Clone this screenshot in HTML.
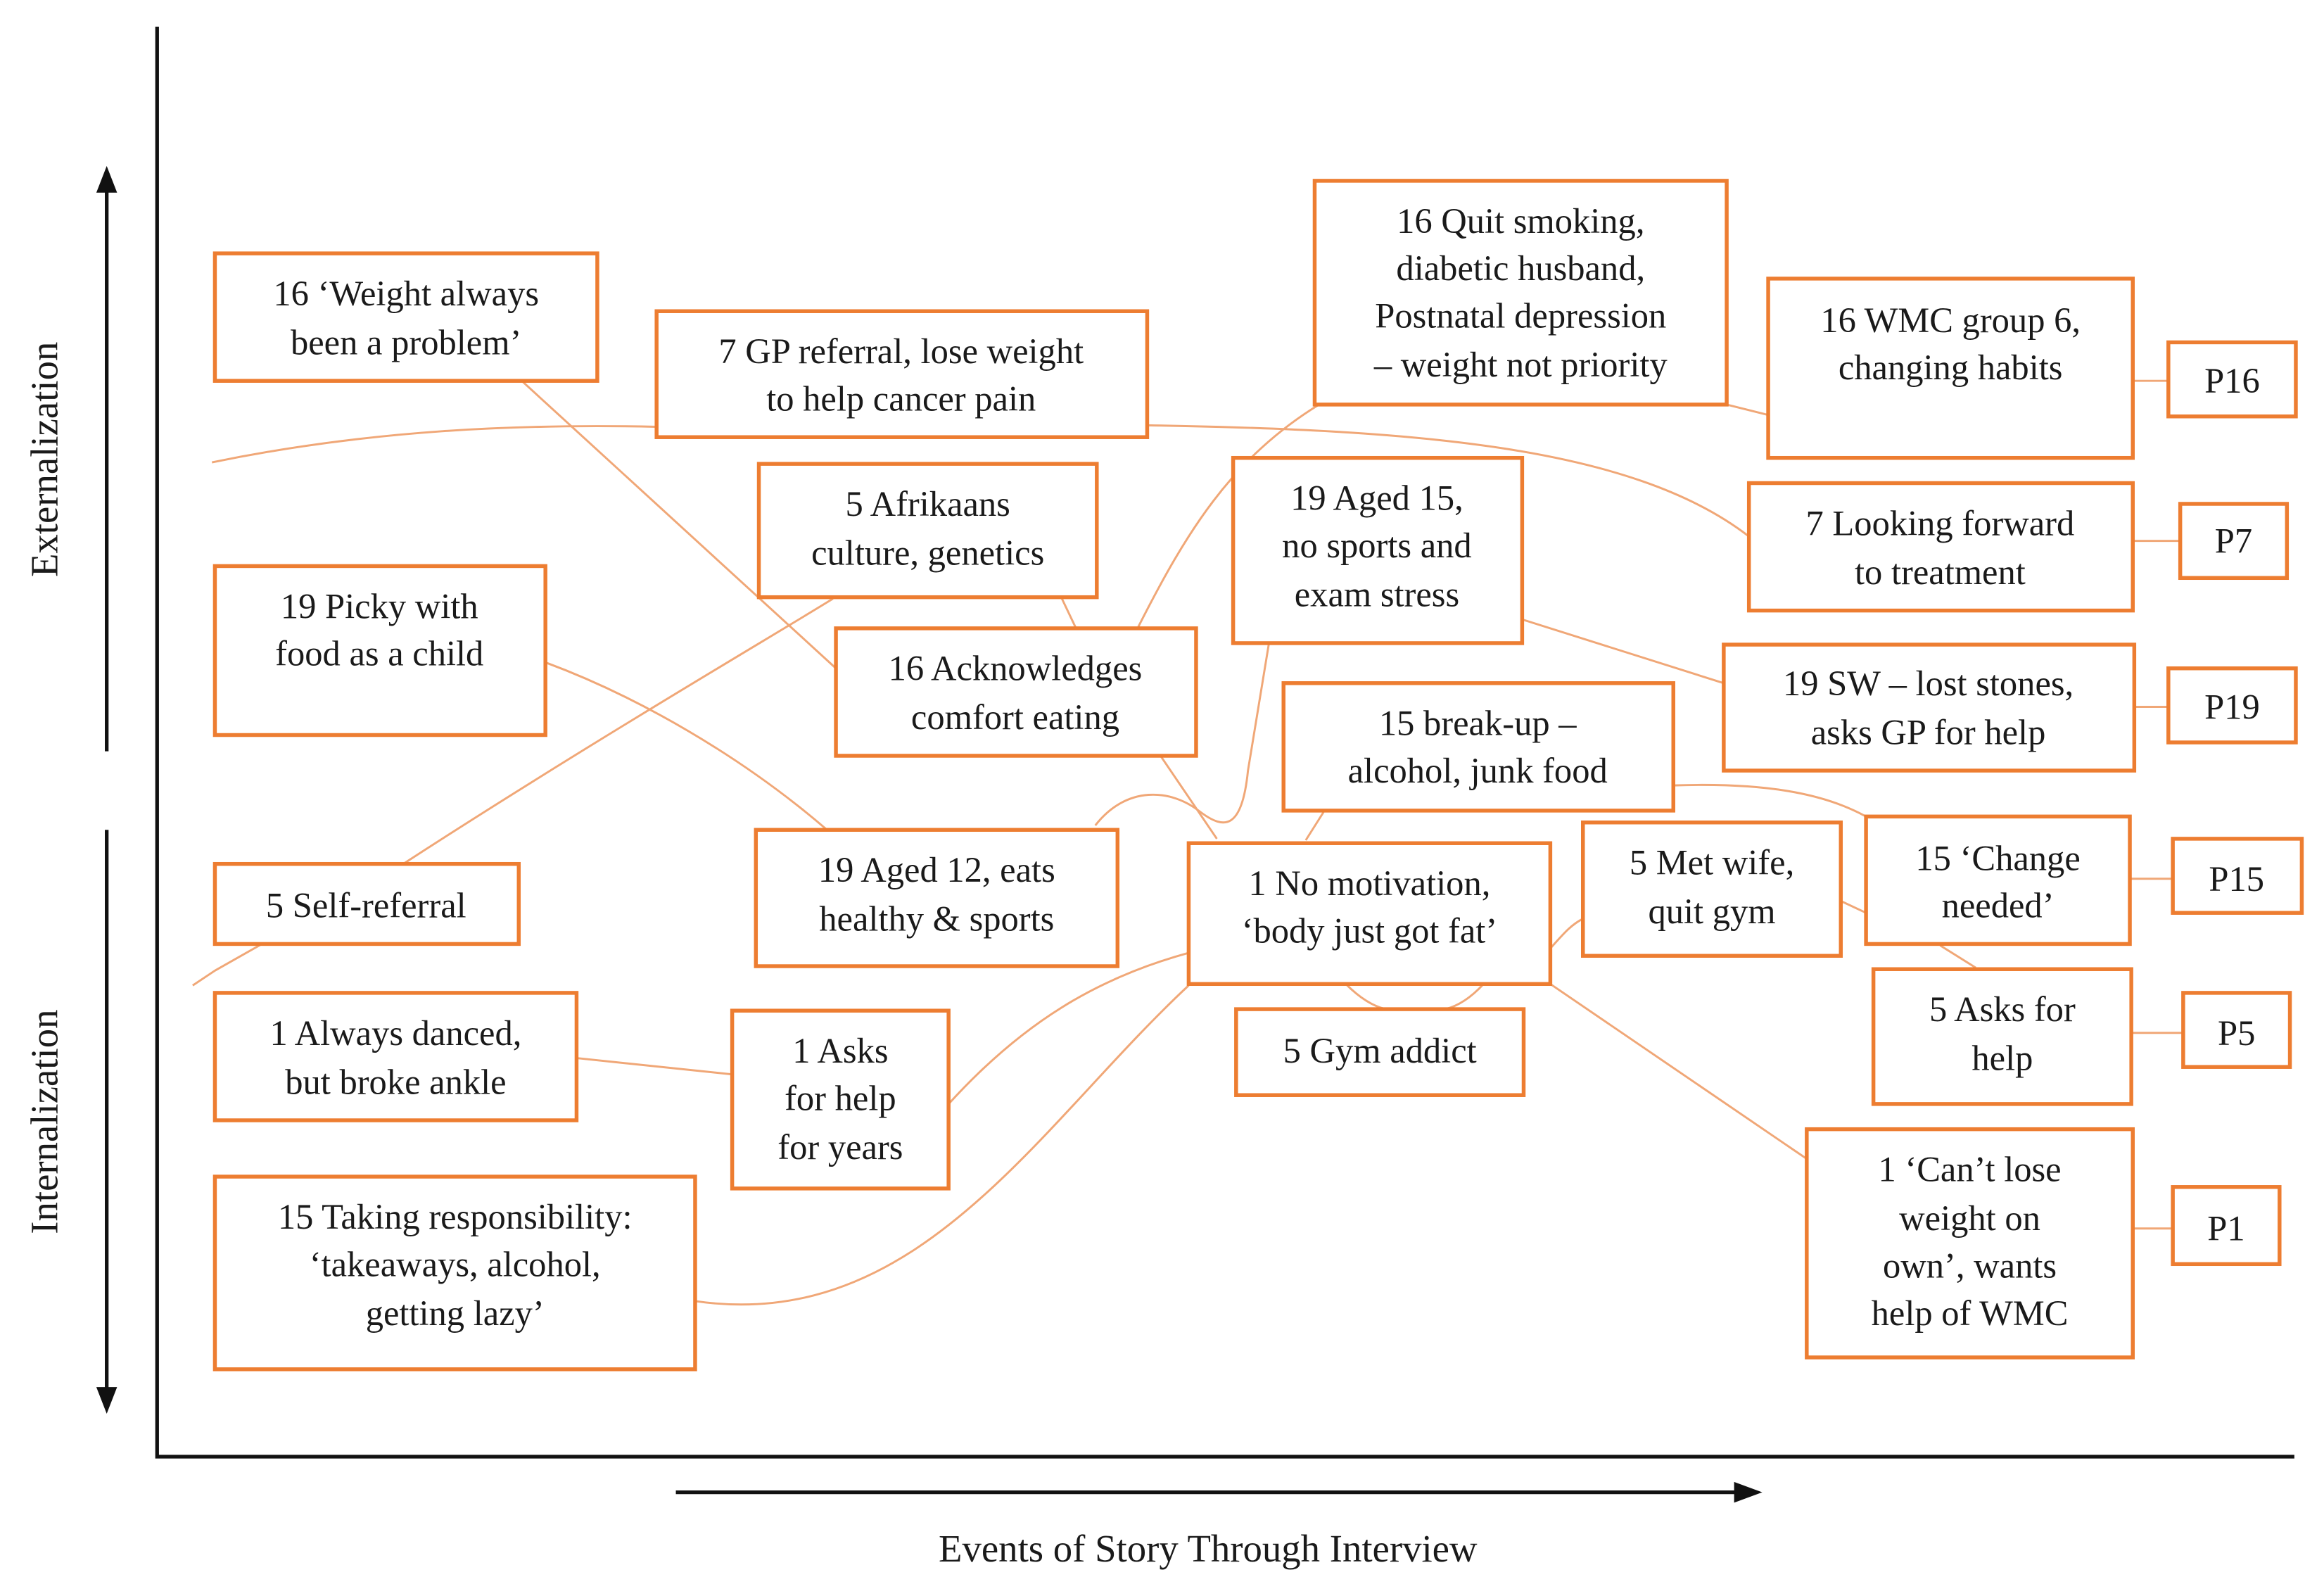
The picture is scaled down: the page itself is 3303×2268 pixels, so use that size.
<!DOCTYPE html>
<html><head><meta charset="utf-8"><style>
html,body{margin:0;padding:0;background:#fff}
svg{display:block}
text{font-family:"Liberation Serif",serif;fill:#1a1a1a}
</style></head><body>
<svg width="3303" height="2268" viewBox="0 0 1568 1077" preserveAspectRatio="none" xmlns="http://www.w3.org/2000/svg">
<rect width="1568" height="1077" fill="#fff"/>
<g fill="none" stroke="#F0A777" stroke-width="1.4">
<path d="M143,312 C250,290 350,286 443,288"/>
<path d="M774,287 C950,290 1100,300 1180,362"/>
<path d="M352,257 L564,451"/>
<path d="M1165,273 L1193,280"/>
<path d="M768,423 C800,360 830,310 890,273"/>
<path d="M716,403 L726,424"/>
<path d="M130,665 L145,655 M145,655 L272,583 C400,500 520,430 562,404"/>
<path d="M368,447 C430,470 500,510 558,560"/>
<path d="M783,510 L821,566"/>
<path d="M739,557 C760,530 790,532 810,548 C826,560 838,560 842,520 L856,435"/>
<path d="M1027,418 L1163,461"/>
<path d="M1129,530 C1190,528 1230,535 1259,551"/>
<path d="M893,548 L881,567"/>
<path d="M1046,640 C1055,630 1060,624 1068,620"/>
<path d="M1242,608 L1259,616"/>
<path d="M1309,638 L1333,653"/>
<path d="M908,664 Q922,678 935,681"/>
<path d="M1001,664 Q988,678 975,681"/>
<path d="M1046,664 L1219,782"/>
<path d="M389,714 L494,725"/>
<path d="M640,745 C690,690 740,660 802,643"/>
<path d="M469,878 C620,900 700,760 802,665"/>
<path d="M1439,257 L1463,257 M1439,365 L1471,365 M1440,477 L1463,477 M1437,593 L1466,593 M1438,697 L1473,697 M1439,829 L1466,829"/>
</g>
<g fill="#fff" stroke="#ED7D31" stroke-width="2.6">
<rect x="145" y="171" width="258" height="86"/>
<rect x="443" y="210" width="331" height="85"/>
<rect x="887" y="122" width="278" height="151"/>
<rect x="1193" y="188" width="246" height="121"/>
<rect x="1463" y="231" width="86" height="50"/>
<rect x="512" y="313" width="228" height="90"/>
<rect x="832" y="309" width="195" height="125"/>
<rect x="1180" y="326" width="259" height="86"/>
<rect x="1471" y="340" width="72" height="50"/>
<rect x="145" y="382" width="223" height="114"/>
<rect x="564" y="424" width="243" height="86"/>
<rect x="1163" y="435" width="277" height="85"/>
<rect x="1463" y="451" width="86" height="50"/>
<rect x="866" y="461" width="263" height="86"/>
<rect x="145" y="583" width="205" height="54"/>
<rect x="510" y="560" width="244" height="92"/>
<rect x="802" y="569" width="244" height="95"/>
<rect x="1068" y="555" width="174" height="90"/>
<rect x="1259" y="551" width="178" height="86"/>
<rect x="1466" y="566" width="87" height="50"/>
<rect x="145" y="670" width="244" height="86"/>
<rect x="494" y="682" width="146" height="120"/>
<rect x="834" y="681" width="194" height="58"/>
<rect x="1264" y="654" width="174" height="91"/>
<rect x="1473" y="670" width="72" height="50"/>
<rect x="145" y="794" width="324" height="130"/>
<rect x="1219" y="762" width="220" height="154"/>
<rect x="1466" y="801" width="72" height="52"/>
</g>
<g font-size="24" text-anchor="middle" dominant-baseline="central">
<text x="274" y="198">16 ‘Weight always</text><text x="274" y="231">been a problem’</text>
<text x="608" y="237">7 GP referral, lose weight</text><text x="608" y="269">to help cancer pain</text>
<text x="1026" y="149">16 Quit smoking,</text><text x="1026" y="181">diabetic husband,</text><text x="1026" y="213">Postnatal depression</text><text x="1026" y="246">– weight not priority</text>
<text x="1316" y="216">16 WMC group 6,</text><text x="1316" y="248">changing habits</text>
<text x="1506" y="257">P16</text>
<text x="626" y="340">5 Afrikaans</text><text x="626" y="373">culture, genetics</text>
<text x="929" y="336">19 Aged 15,</text><text x="929" y="368">no sports and</text><text x="929" y="401">exam stress</text>
<text x="1309" y="353">7 Looking forward</text><text x="1309" y="386">to treatment</text>
<text x="1507" y="365">P7</text>
<text x="256" y="409">19 Picky with</text><text x="256" y="441">food as a child</text>
<text x="685" y="451">16 Acknowledges</text><text x="685" y="484">comfort eating</text>
<text x="1301" y="461">19 SW – lost stones,</text><text x="1301" y="494">asks GP for help</text>
<text x="1506" y="477">P19</text>
<text x="997" y="488">15 break-up –</text><text x="997" y="520">alcohol, junk food</text>
<text x="247" y="611">5 Self-referral</text>
<text x="632" y="587">19 Aged 12, eats</text><text x="632" y="620">healthy &amp; sports</text>
<text x="924" y="596">1 No motivation,</text><text x="924" y="628">‘body just got fat’</text>
<text x="1155" y="582">5 Met wife,</text><text x="1155" y="615">quit gym</text>
<text x="1348" y="579">15 ‘Change</text><text x="1348" y="611">needed’</text>
<text x="1509" y="593">P15</text>
<text x="267" y="697">1 Always danced,</text><text x="267" y="730">but broke ankle</text>
<text x="567" y="709">1 Asks</text><text x="567" y="741">for help</text><text x="567" y="774">for years</text>
<text x="931" y="709">5 Gym addict</text>
<text x="1351" y="681">5 Asks for</text><text x="1351" y="714">help</text>
<text x="1509" y="697">P5</text>
<text x="307" y="821">15 Taking responsibility:</text><text x="307" y="853">‘takeaways, alcohol,</text><text x="307" y="886">getting lazy’</text>
<text x="1329" y="789">1 ‘Can’t lose</text><text x="1329" y="822">weight on</text><text x="1329" y="854">own’, wants</text><text x="1329" y="886">help of WMC</text>
<text x="1502" y="829">P1</text>
<text x="815" y="1045" font-size="26">Events of Story Through Interview</text>
<text transform="translate(30,310) rotate(-90)" font-size="26">Externalization</text>
<text transform="translate(30,757) rotate(-90)" font-size="26">Internalization</text>
</g>
<g stroke="#111" stroke-width="2.5" fill="none">
<path d="M106,18 L106,983 L1548,983"/>
<path d="M72,507 L72,128"/>
<path d="M72,560 L72,938"/>
<path d="M456,1007 L1172,1007"/>
</g>
<g fill="#111">
<polygon points="72,112 65,130 79,130"/>
<polygon points="72,954 65,936 79,936"/>
<polygon points="1189,1007 1170,1000 1170,1014"/>
</g>
</svg>
</body></html>
